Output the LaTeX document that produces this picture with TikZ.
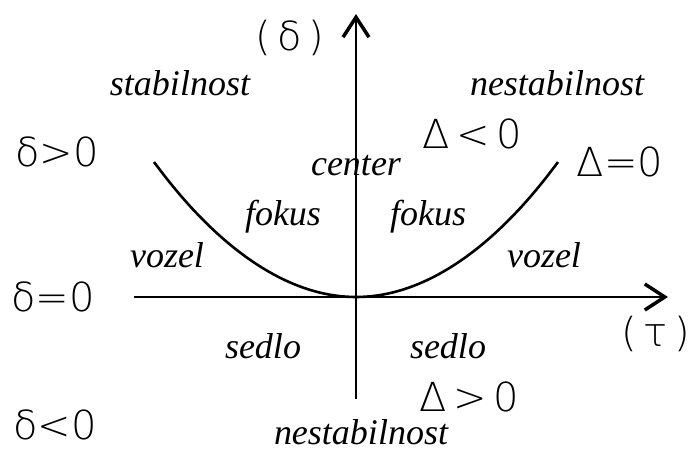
\documentclass[tikz,border=0pt]{standalone}
\usepackage{fontspec}
\setmainfont{Liberation Serif}
\newfontfamily\grk{DejaVu Sans}[UprightFont={* ExtraLight}]
\usetikzlibrary{arrows.meta}

\begin{document}
\begin{tikzpicture}[
    x=1pt, y=-1pt,
    >={Straight Barb[length=20pt, width=26pt, line width=3.5pt]},
    axis/.style={->, line width=2pt},
    region/.style={font=\fontsize{36}{40}\selectfont\itshape, inner sep=0pt},
    cond/.style={font=\fontsize{40}{44}\selectfont\grk, inner sep=0pt}
  ]
  \useasboundingbox (0,0) rectangle (691,453);

  % Osy
  \coordinate (o)    at (356, 297);
  \coordinate (xbeg) at (134, 297);
  \coordinate (xend) at (668, 297);
  \coordinate (ybeg) at (356, 399);
  \coordinate (yend) at (356, 14);
  \draw[axis] (xbeg) -- (xend);
  \draw[axis] (ybeg) -- (yend);

  % Parabola Delta = 0
  \coordinate (pl) at (154, 162);
  \coordinate (pr) at (558, 162);
  \draw[line width=2.6pt] (pl) parabola bend (o) (pr);

  % Popisky os
  \node[cond] (ldelta) at (290, 38)  {(\,δ\,)};
  \node[cond] (ltau)   at (656, 334) {(\,τ\,)};

  % Podminky
  \node[cond] (dpos)  at (57, 152)  {δ>0};
  \node[cond] (dzero) at (53, 297)  {δ=0};
  \node[cond] (dneg)  at (55, 425)  {δ<0};
  \node[cond] (Dneg)  at (472, 134) {Δ\,<\,0};
  \node[cond] (Dzero) at (620, 162) {Δ=0};
  \node[cond] (Dpos)  at (469, 397) {Δ\,>\,0};

  % Oblasti
  \node[region] (stab)   at (180, 83)  {stabilnost};
  \node[region] (nstab)  at (557, 83)  {nestabilnost};
  \node[region, anchor=base] (nstabb) at (361, 444) {nestabilnost};
  \node[region] (cent)   at (356, 166) {center};
  \node[region] (fokl)   at (283, 217) {fokus};
  \node[region] (fokr)   at (428, 217) {fokus};
  \node[region] (vozl)   at (167, 255) {vozel};
  \node[region] (vozr)   at (544, 255) {vozel};
  \node[region] (sedl)   at (263, 346) {sedlo};
  \node[region] (sedr)   at (448, 346) {sedlo};

\end{tikzpicture}
\end{document}
